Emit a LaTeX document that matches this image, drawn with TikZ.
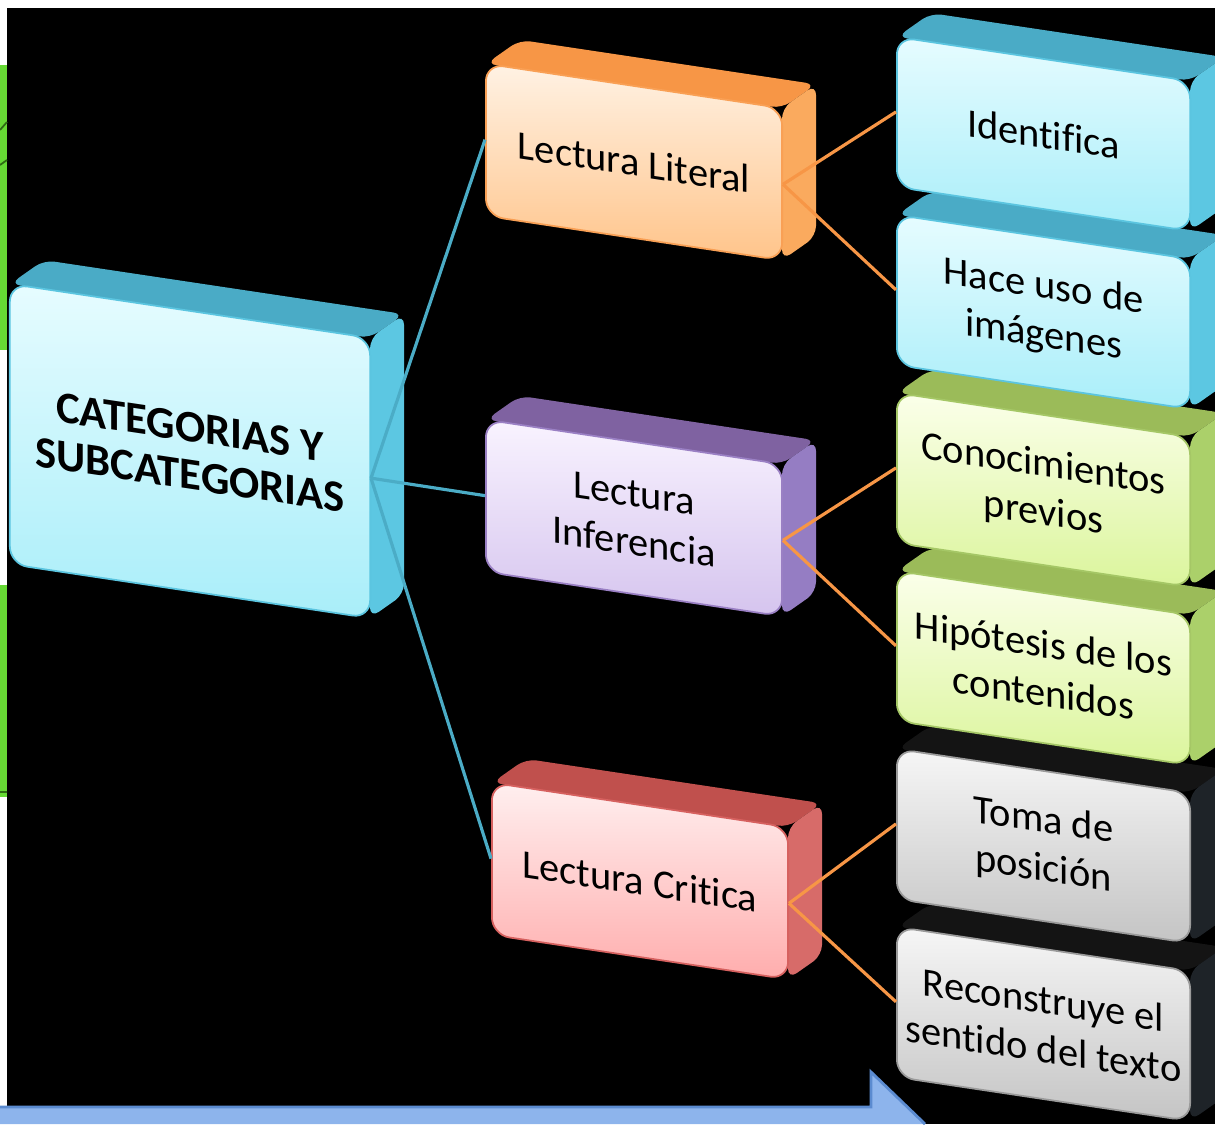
\documentclass[tikz,border=0pt]{standalone}
\usepackage{fontspec}
\setmainfont{Carlito}[Ligatures=NoCommon]

\definecolor{bluefrontA}{HTML}{E6FCFF}
\definecolor{bluefrontB}{HTML}{A9EEF9}
\definecolor{blueedge}{HTML}{5BC5E0}
\definecolor{bluetop}{HTML}{4AABC6}
\definecolor{blueside}{HTML}{5CC7E2}
\definecolor{orangefrontA}{HTML}{FFF2E4}
\definecolor{orangefrontB}{HTML}{FFC48A}
\definecolor{orangeedge}{HTML}{F9A055}
\definecolor{orangetop}{HTML}{F79646}
\definecolor{orangeside}{HTML}{FAAA5E}
\definecolor{purplefrontA}{HTML}{F9F3FF}
\definecolor{purplefrontB}{HTML}{D5C4EE}
\definecolor{purpleedge}{HTML}{9A80C4}
\definecolor{purpletop}{HTML}{7F62A1}
\definecolor{purpleside}{HTML}{957DC3}
\definecolor{redfrontA}{HTML}{FFEFEF}
\definecolor{redfrontB}{HTML}{FFADAD}
\definecolor{rededge}{HTML}{D6615F}
\definecolor{redtop}{HTML}{C0504D}
\definecolor{redside}{HTML}{D76B69}
\definecolor{greenfrontA}{HTML}{FBFFEA}
\definecolor{greenfrontB}{HTML}{DBF59C}
\definecolor{greenedge}{HTML}{A5C766}
\definecolor{greentop}{HTML}{9BBB59}
\definecolor{greenside}{HTML}{ABD06A}
\definecolor{grayfrontA}{HTML}{F6F6F6}
\definecolor{grayfrontB}{HTML}{C4C4C4}
\definecolor{grayedge}{HTML}{9A9A9A}
\definecolor{graytop}{HTML}{141414}
\definecolor{grayside}{HTML}{1E2328}
\definecolor{linkblue}{HTML}{4BACC6}
\definecolor{linkorange}{HTML}{F79646}
\definecolor{arrowfill}{HTML}{8DB4EC}
\definecolor{arrowedge}{HTML}{5B8BD0}
\definecolor{leaf}{HTML}{66D934}
\definecolor{leafdark}{HTML}{2E6B14}

\tikzset{
  face/.style={rectangle, rounded corners=5pt, transform shape, inner sep=2pt,
    align=center, top color=#1frontA, bottom color=#1frontB, draw=#1edge,
    line width=0.5pt, text=black, font=\fontsize{11.5}{13.8}\selectfont},
  bluelink/.style={draw=linkblue, line width=0.9pt},
  orangelink/.style={draw=linkorange, line width=0.9pt}
}

% box seen a bit from the side: top face, right face, then the front node
\newcommand{\cuboid}[7][]{%
  \begin{scope}[shift={#3}, yslant=-0.15]
    \fill[#6top, rounded corners=3pt] (-#4,-#5) -- (-#4+34,-#5-29) -- (#4+34,-#5-29) -- (#4,-#5) -- cycle;
    \fill[#6side, rounded corners=3pt] (#4,-#5) -- (#4+34,-#5-29) -- (#4+34,#5-29) -- (#4,#5) -- cycle;
    \node[face=#6, minimum width=#4*0.02cm, minimum height=#5*0.02cm, #1] (#2) at (0,0) {#7};
  \end{scope}}

\begin{document}
\begin{tikzpicture}[x=0.01cm, y=-0.01cm]
  \useasboundingbox (0,0) rectangle (1215,1124);
  \clip (0,0) rectangle (1215,1124);
  \fill[white] (0,0) rectangle (1215,1124);
  \fill[black] (7,8) rectangle (1215,1124);
  % bits of the next slide at the left edge
  \fill[leaf] (0,65) rectangle (7,350);
  \fill[leaf] (0,585) rectangle (7,797);
  \draw[leafdark, line width=0.5pt] (0,130) -- (7,122) (0,165) -- (7,160) (0,792) -- (7,792);

  \cuboid[font=\bfseries\fontsize{12.7}{13.6}\selectfont]{main}{(190,451)}{180}{140}{blue}{CATEGORIAS Y\\SUBCATEGORIAS}

  \cuboid{lit}{(634,162)}{148}{76}{orange}{Lectura Literal}
  \cuboid{inf}{(634,518)}{148}{76}{purple}{Lectura\\Inferencia}
  \cuboid{cri}{(640,881)}{148}{76}{red}{Lectura Critica}

  \cuboid{rec}{(1043.5,1024)}{146.5}{75}{gray}{Reconstruye el\\sentido del texto}
  \cuboid{tom}{(1043.5,846)}{146.5}{75}{gray}{Toma de\\posición}
  \cuboid{hip}{(1043.5,668)}{146.5}{75}{green}{Hipótesis de los\\contenidos}
  \cuboid{con}{(1043.5,490)}{146.5}{75}{green}{Conocimientos\\previos}
  \cuboid{ima}{(1043.5,312)}{146.5}{75}{blue}{Hace uso de\\imágenes}
  \cuboid{ide}{(1043.5,134)}{146.5}{75}{blue}{Identifica}

  \path[bluelink]
    (main.east) edge (lit.west)
    (main.east) edge (inf.west)
    (main.east) edge (cri.west);
  \path[orangelink]
    (lit.east) edge (ide.west)
    (lit.east) edge (ima.west)
    (inf.east) edge (con.west)
    (inf.east) edge (hip.west)
    (cri.east) edge (tom.west)
    (cri.east) edge (rec.west);

  % arrow of the slide below
  \fill[arrowfill] (0,1107) -- (871,1107) -- (871,1072) -- (925,1124) -- (0,1124) -- cycle;
  \draw[arrowedge, line width=0.8pt] (0,1107) -- (871,1107) -- (871,1072) -- (925,1124);
\end{tikzpicture}
\end{document}
